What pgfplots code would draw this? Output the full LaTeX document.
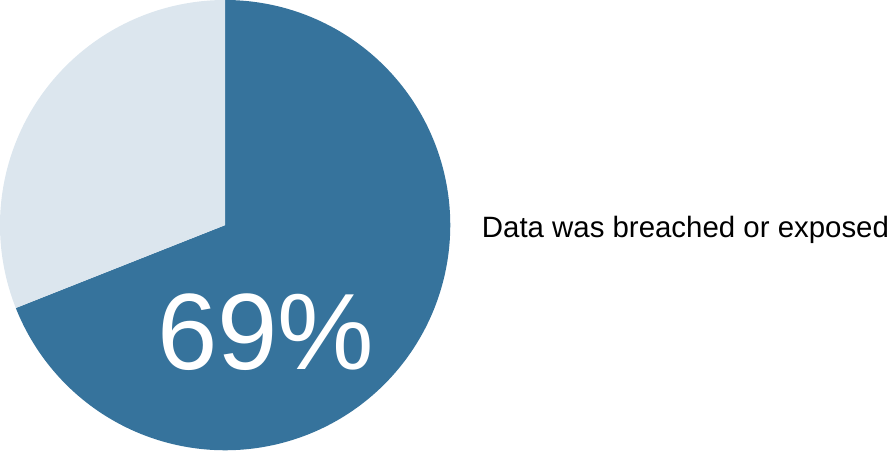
\documentclass[border=0pt]{standalone}
\usepackage{fontspec}
\setmainfont{Liberation Sans}
\usepackage{pgfplots}
\pgfplotsset{compat=1.18}
\definecolor{darkslice}{HTML}{36739C}
\definecolor{lightslice}{HTML}{DCE6EE}
\def\valA{69}
\pgfmathsetmacro\endA{90-\valA*3.6}
\pgfmathsetmacro\endB{90-\valA*3.6+360}
\begin{document}
\begin{tikzpicture}
\begin{axis}[
  width=889pt, height=448pt, scale only axis,
  xmin=0, xmax=889, ymin=0, ymax=448,
  hide axis, clip=false,
]
\addplot[fill=darkslice, draw=none, domain=\endA:90, samples=300]
  ({224+222*cos(x)},{224+222*sin(x)}) -- (axis cs:224,224) -- cycle;
\addplot[fill=lightslice, draw=none, domain=90:\endB, samples=200]
  ({224+222*cos(x)},{224+222*sin(x)}) -- (axis cs:224,224) -- cycle;
\node[anchor=base, text=white, font=\fontsize{107}{120}\selectfont, inner sep=0pt] at (axis cs:264,82) {69\%};
\node[anchor=base west, text=black, font=\fontsize{29}{34}\selectfont, inner sep=0pt] at (axis cs:477,212) {Data was breached or exposed};
\end{axis}
\end{tikzpicture}
\end{document}
